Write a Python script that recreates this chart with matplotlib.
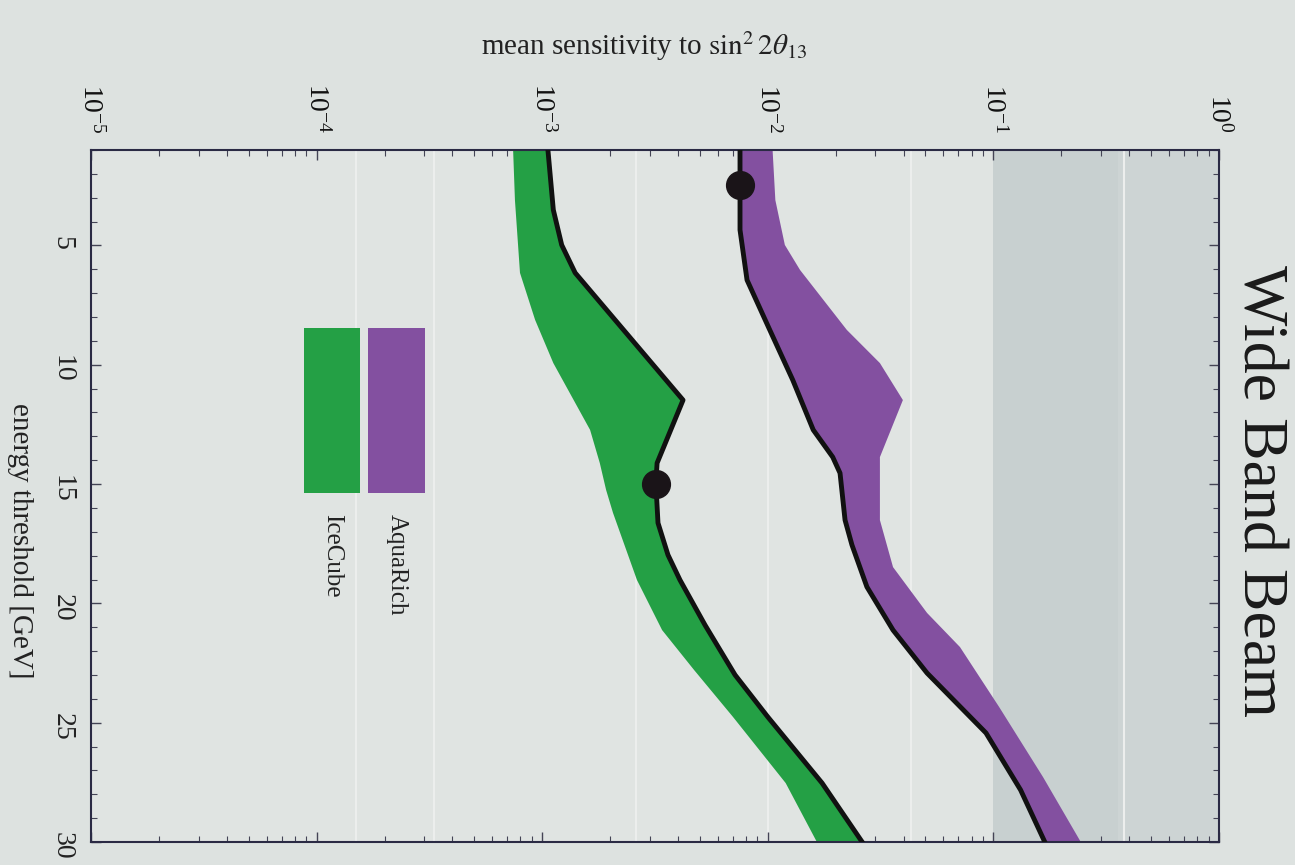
import numpy as np
import matplotlib
matplotlib.use("Agg")
import matplotlib.pyplot as plt
from matplotlib.ticker import LogLocator, MultipleLocator, FixedLocator
from matplotlib.patches import Rectangle

plt.rcParams['font.family'] = ['Liberation Serif', 'DejaVu Serif']
plt.rcParams['mathtext.fontset'] = 'stix'

# IceCube: black line (best case) and green band edge
ice_line_E = [1.0, 3.51, 4.98, 6.15, 11.48, 14.12, 14.96, 16.63, 17.97, 19.02, 20.91, 23.00, 24.76, 27.53, 30.0]
ice_line_S = [1.06e-3, 1.12e-3, 1.22e-3, 1.40e-3, 4.21e-3, 3.23e-3, 3.19e-3, 3.26e-3, 3.61e-3, 4.08e-3,
              5.27e-3, 7.16e-3, 1.00e-2, 1.74e-2, 2.62e-2]
ice_edge_E = [1.0, 3.10, 6.15, 8.12, 9.93, 12.73, 14.12, 15.25, 16.21, 19.02, 21.12, 22.79, 24.76, 27.53, 30.0]
ice_edge_S = [7.43e-4, 7.57e-4, 7.97e-4, 9.30e-4, 1.12e-3, 1.63e-3, 1.80e-3, 1.92e-3, 2.06e-3, 2.63e-3,
              3.40e-3, 4.71e-3, 7.01e-3, 1.20e-2, 1.65e-2]

# AquaRich: black line and purple band edge
aqua_line_E = [1.0, 2.47, 4.35, 6.45, 8.54, 10.64, 12.73, 13.87, 14.54, 16.51, 17.55, 19.31, 21.12, 22.92,
               25.43, 27.82, 30.0]
aqua_line_S = [7.53e-3, 7.53e-3, 7.53e-3, 8.09e-3, 1.02e-2, 1.29e-2, 1.59e-2, 1.94e-2, 2.09e-2, 2.20e-2,
               2.36e-2, 2.75e-2, 3.59e-2, 5.08e-2, 9.27e-2, 1.32e-1, 1.69e-1]
aqua_edge_E = [1.0, 3.10, 4.98, 6.03, 8.54, 9.93, 11.48, 13.87, 16.51, 18.48, 20.40, 21.83, 24.34, 27.28, 30.0]
aqua_edge_S = [1.05e-2, 1.08e-2, 1.19e-2, 1.39e-2, 2.24e-2, 3.14e-2, 3.97e-2, 3.14e-2, 3.14e-2, 3.59e-2,
               5.08e-2, 7.11e-2, 1.06e-1, 1.66e-1, 2.44e-1]

# optimal thresholds (dots)
dot_E = [2.47, 15.0]
dot_S = [7.53e-3, 3.2e-3]

# excluded region
excl_lo, excl_mid, excl_hi = 0.1, 0.356, 1.0

green = '#24a045'
purple = '#8350a0'
bg = '#dde2e0'

fig = plt.figure(figsize=(12.95, 8.65), dpi=100, facecolor=bg)
ax = fig.add_axes([0.0703, 0.0266, 0.871, 0.80])
ax.set_facecolor('#e0e4e2')

ax.axvspan(excl_lo, excl_mid, color='#c8d0d0', lw=0, zorder=0)
ax.axvspan(excl_mid, excl_hi, color='#cdd4d4', lw=0, zorder=0)
for v in [1.5e-4, 3.3e-4, 2.6e-3, 1e-2, 4.3e-2, 0.38]:
    ax.axvline(v, color='#eceeed', lw=1.5, zorder=0.5)

ax.fill(np.concatenate([ice_edge_S, ice_line_S[::-1]]),
        np.concatenate([ice_edge_E, ice_line_E[::-1]]), color=green, lw=0, zorder=2)
ax.fill(np.concatenate([aqua_line_S, aqua_edge_S[::-1]]),
        np.concatenate([aqua_line_E, aqua_edge_E[::-1]]), color=purple, lw=0, zorder=2)
ax.plot(ice_line_S, ice_line_E, color='#111111', lw=3.5, zorder=3)
ax.plot(aqua_line_S, aqua_line_E, color='#111111', lw=3.5, zorder=3)
ax.plot(dot_S, dot_E, 'o', ms=20, color='#1a1418', zorder=4)

ax.set_xscale('log')
ax.set_xlim(1e-5, 1)
ax.set_ylim(30, 1)

ax.xaxis.set_major_locator(LogLocator(base=10, numticks=10))
ax.xaxis.set_minor_locator(LogLocator(base=10, subs=np.arange(2, 10), numticks=20))
ax.yaxis.set_major_locator(FixedLocator([5, 10, 15, 20, 25, 30]))
ax.yaxis.set_minor_locator(MultipleLocator(1))

ax.xaxis.tick_top()
ax.tick_params(axis='both', which='both', direction='in', top=True, bottom=True, left=True, right=True,
               colors='#444455')
ax.tick_params(axis='both', which='major', length=7, width=1)
ax.tick_params(axis='both', which='minor', length=4, width=0.8)
ax.tick_params(axis='x', labeltop=True, labelbottom=False, labelrotation=-90, labelsize=20, pad=12,
               labelcolor='#111111')
ax.tick_params(axis='y', labelleft=True, labelrotation=-90, labelsize=20, pad=12, labelcolor='#222222')

for s in ax.spines.values():
    s.set_color('#2a2a44')
    s.set_linewidth(1.5)

ax.xaxis.set_label_position('top')
ax.set_xlabel(r'mean sensitivity to $\sin^2 2\theta_{13}$', fontsize=21, color='#222222')
ax.xaxis.set_label_coords(0.49, 1.15)
ax.xaxis.label.set_verticalalignment('center')

ax.set_ylabel('energy threshold [GeV]', fontsize=21, rotation=-90, color='#222222')
ax.yaxis.set_label_coords(-0.063, 0.436)
ax.yaxis.label.set_verticalalignment('center')
ax.yaxis.label.set_horizontalalignment('center')

ax.text(1.0346, 0.507, 'Wide Band Beam', rotation=-90, transform=ax.transAxes,
        fontsize=46, ha='center', va='center', color='#1a1a1a')

# legend, drawn rotated like the rest of the figure
ax.add_patch(Rectangle((0.1888, 0.5043), 0.0497, 0.2385, transform=ax.transAxes,
                       color=green, lw=0, zorder=5))
ax.add_patch(Rectangle((0.2456, 0.5043), 0.0505, 0.2385, transform=ax.transAxes,
                       color=purple, lw=0, zorder=5))
ax.text(0.2713, 0.474, 'AquaRich', rotation=-90, transform=ax.transAxes, fontsize=18,
        ha='center', va='top', color='#222222')
ax.text(0.2137, 0.474, 'IceCube', rotation=-90, transform=ax.transAxes, fontsize=18,
        ha='center', va='top', color='#222222')

fig.savefig('out.png', dpi=100, facecolor=bg)
